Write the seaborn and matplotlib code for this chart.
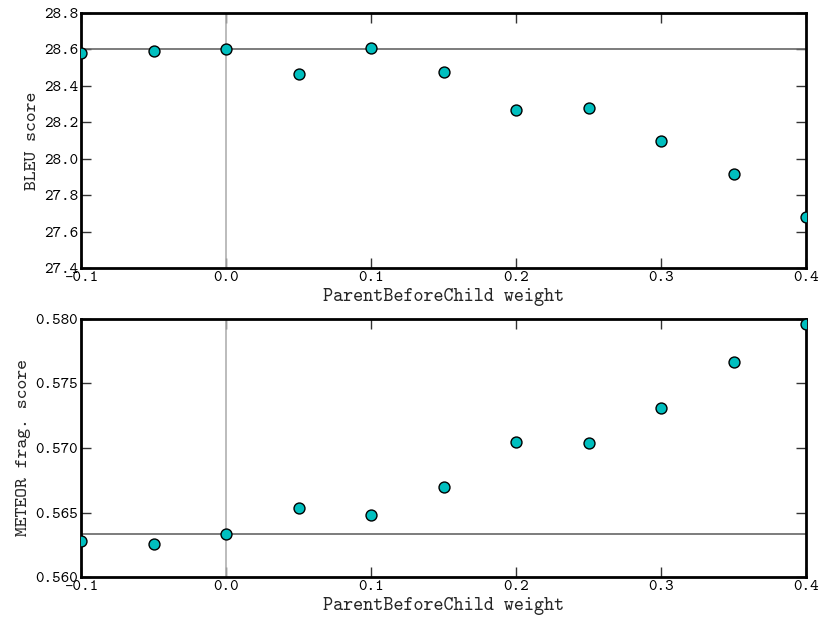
import matplotlib
matplotlib.use("Agg")
import matplotlib.pyplot as plt
import seaborn as sns
import pandas as pd
from matplotlib.ticker import MultipleLocator, FormatStrFormatter

weights = [-0.1, -0.05, 0.0, 0.05, 0.1, 0.15, 0.2, 0.25, 0.3, 0.35, 0.4]
bleu = [28.58, 28.59, 28.60, 28.467, 28.61, 28.478, 28.265, 28.276, 28.095, 27.915, 27.68]
meteor = [0.56278, 0.56257, 0.56335, 0.56536, 0.5648, 0.5670, 0.57045, 0.5704, 0.5731, 0.5767, 0.5796]
baseline_bleu = 28.60
baseline_meteor = 0.56335

sns.set_theme(style="white")
plt.rcParams['font.family'] = ['cmtt10', 'DejaVu Sans Mono']
plt.rcParams['axes.unicode_minus'] = False
plt.rcParams['mathtext.fontset'] = 'cm'

df = pd.DataFrame({"w": weights, "bleu": bleu, "meteor": meteor})

fig = plt.figure(figsize=(8.21, 6.23), dpi=100)
ax1 = fig.add_axes([81/821, 1-268/623, 725/821, 255/623])
ax2 = fig.add_axes([81/821, 1-577/623, 725/821, 258/623])

specs = [
    (ax1, "bleu", baseline_bleu, (27.4, 28.8), 0.2, "%.1f", "BLEU score"),
    (ax2, "meteor", baseline_meteor, (0.560, 0.580), 0.005, "%.3f", "METEOR frag. score"),
]
for ax, col, base, ylim, ystep, fmt, ylabel in specs:
    ax.axvline(0.0, color="#b0b0b0", lw=1.2, zorder=1)
    ax.axhline(base, color="#666666", lw=1.2, zorder=1)
    sns.scatterplot(data=df, x="w", y=col, ax=ax, color=(0, 0.75, 0.75),
                    edgecolor="black", linewidth=1.0, s=62, zorder=3, clip_on=True)
    ax.set_xlim(-0.1, 0.4)
    ax.set_ylim(*ylim)
    ax.xaxis.set_major_locator(MultipleLocator(0.1))
    ax.yaxis.set_major_locator(MultipleLocator(ystep))
    ax.xaxis.set_major_formatter(FormatStrFormatter("%.1f"))
    ax.yaxis.set_major_formatter(FormatStrFormatter(fmt))
    ax.tick_params(direction="in", length=7, width=1, color="#333333",
                   top=True, right=True, bottom=True, left=True,
                   labelsize=11.7, pad=2, labelcolor="black")
    for sp in ax.spines.values():
        sp.set_linewidth(2)
        sp.set_color("black")
    ax.set_xlabel("ParentBeforeChild weight", fontsize=13.8, labelpad=2)
    ax.set_ylabel(ylabel, fontsize=13.5, labelpad=3)
    ax.grid(False)

fig.savefig("out.png", dpi=100)
